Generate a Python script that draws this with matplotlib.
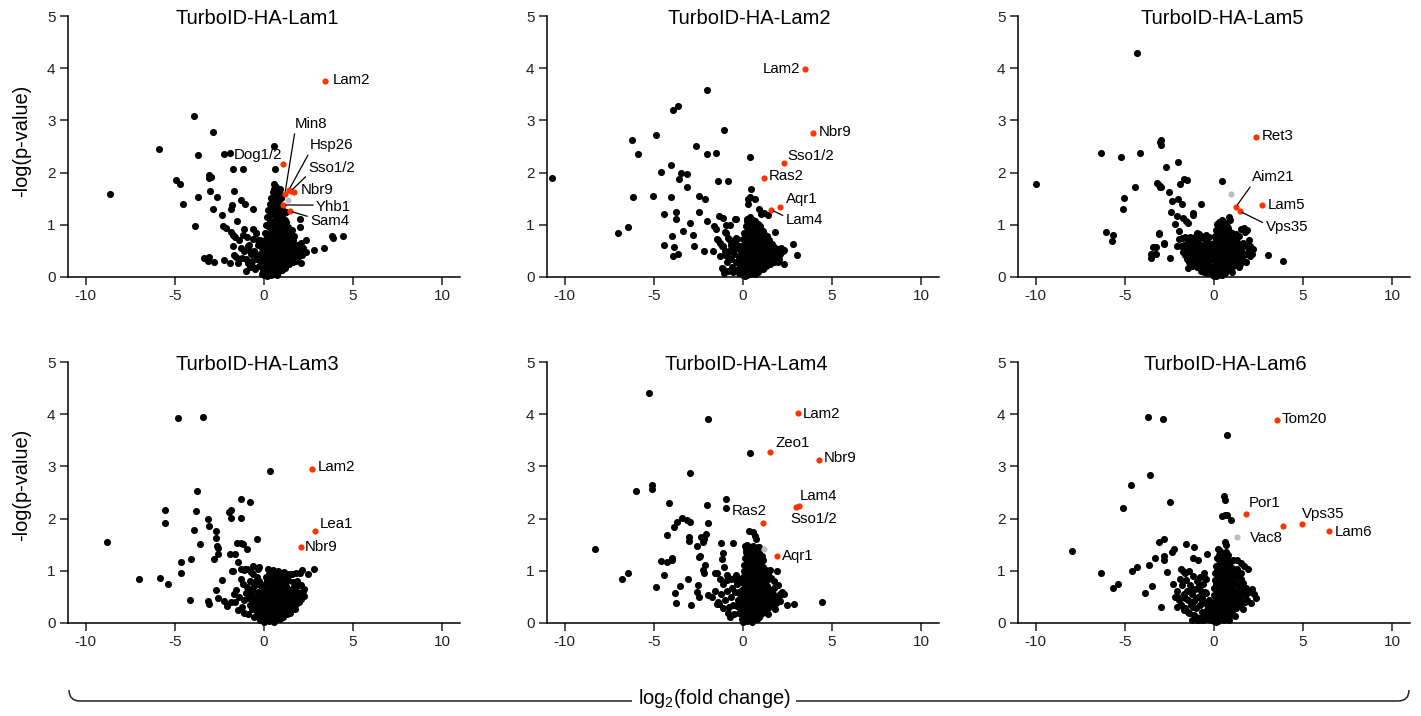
import numpy as np
import matplotlib.pyplot as plt
from matplotlib.path import Path
from matplotlib.patches import PathPatch

plt.rcParams['font.family'] = ['Liberation Sans', 'DejaVu Sans']
plt.rcParams['mathtext.fontset'] = 'custom'
plt.rcParams['mathtext.rm'] = 'Liberation Sans'
plt.rcParams['axes.unicode_minus'] = False

# ---------------- data (log2 fold change, -log p) ----------------
titles = ['TurboID-HA-Lam1', 'TurboID-HA-Lam2', 'TurboID-HA-Lam5',
          'TurboID-HA-Lam3', 'TurboID-HA-Lam4', 'TurboID-HA-Lam6']

lam1_black = [
    (-8.66, 1.59), (-5.87, 2.46), (-3.92, 3.09), (-2.87, 2.77), (-3.68, 2.33), (-2.23, 2.36), (-1.89, 2.37),
    (-4.94, 1.86), (-4.74, 1.79), (-4.53, 1.39), (-3.68, 1.54), (-3.06, 1.96), (-2.96, 1.91), (-3.09, 1.90),
    (-3.04, 1.64), (-2.64, 1.54), (-2.85, 1.31), (-3.85, 0.97), (-2.38, 1.19), (-2.32, 0.97), (-2.13, 0.94),
    (-1.72, 2.07), (-1.17, 2.06), (-1.66, 1.65), (-1.81, 1.37), (-1.87, 1.30), (-1.28, 1.47), (-1.09, 1.40),
    (-0.64, 1.30), (-1.51, 1.08), (-1.83, 0.87), (-1.72, 0.81), (-1.60, 0.77), (-1.11, 0.91), (-0.96, 0.77),
    (-1.19, 0.81), (-0.62, 0.91), (-0.45, 0.84), (-0.34, 0.71), (-3.36, 0.36), (-3.11, 0.38), (-2.83, 0.29),
    (-3.13, 0.31), (-2.26, 0.33), (-1.92, 0.26), (-1.70, 0.43), (-1.57, 0.39), (-1.47, 0.26), (-1.23, 0.36),
    (-1.02, 0.12), (-0.91, 0.27), (-0.62, 0.20), (0.57, 2.51), (0.64, 2.07), (3.36, 0.56), (3.81, 0.79),
    (3.85, 0.75), (4.43, 0.78), (2.79, 0.51), (2.36, 0.70), (2.02, 0.95), (2.02, 1.12), (2.06, 0.27),
    (1.23, 1.24), (-1.75, 0.60), (-1.30, 0.55), (-0.80, 0.50), (-0.55, 0.45), (-1.40, 0.70), (-0.85, 0.62),
    (0.55, 1.78), (0.62, 1.75), (0.70, 1.72), (0.48, 1.62), (0.60, 1.55), (0.75, 1.58), (0.85, 1.60),
    (0.52, 1.45), (0.68, 1.42), (0.80, 1.48), (0.95, 1.52), (0.45, 1.32), (0.58, 1.30), (0.72, 1.35),
    (0.90, 1.38), (1.00, 1.30), (0.40, 1.20), (0.55, 1.18), (0.66, 1.22), (0.82, 1.20), (0.96, 1.15),
    (1.10, 1.22), (0.35, 1.08), (0.50, 1.05), (0.62, 1.10), (0.78, 1.02), (0.92, 1.06), (1.05, 1.00),
    (1.25, 1.05), (0.30, 0.95), (0.45, 0.92), (0.58, 0.96), (0.72, 0.90), (0.86, 0.94), (1.00, 0.88),
    (1.15, 0.92), (1.35, 0.96), (1.55, 0.90), (0.25, 0.82), (0.40, 0.80), (0.52, 0.85), (0.66, 0.78),
    (0.80, 0.82), (0.95, 0.76), (1.10, 0.80), (1.25, 0.75), (1.45, 0.82), (1.70, 0.78), (0.20, 0.70),
    (0.35, 0.68), (0.48, 0.72), (0.62, 0.66), (0.76, 0.70), (0.90, 0.64), (1.05, 0.68), (1.20, 0.62),
    (1.38, 0.66), (1.60, 0.70), (1.85, 0.62), (2.05, 0.66), (0.15, 0.58), (0.28, 0.56), (0.42, 0.60),
    (0.56, 0.54), (0.70, 0.58), (0.85, 0.52), (1.00, 0.56), (1.15, 0.50), (1.30, 0.55), (1.50, 0.52),
    (1.72, 0.56), (1.95, 0.50), (2.20, 0.55), (2.35, 0.48), (0.10, 0.46), (0.22, 0.44), (0.36, 0.48),
    (0.50, 0.42), (0.65, 0.46), (0.80, 0.40), (0.95, 0.44), (1.10, 0.38), (1.28, 0.42), (1.45, 0.36),
    (1.65, 0.40), (1.90, 0.38), (2.15, 0.42), (0.05, 0.34), (0.18, 0.32), (0.32, 0.36), (0.46, 0.30),
    (0.60, 0.34), (0.75, 0.28), (0.90, 0.32), (1.05, 0.26), (1.22, 0.30), (1.40, 0.24), (1.60, 0.28),
    (1.80, 0.30), (0.00, 0.22), (0.12, 0.20), (0.26, 0.24), (0.40, 0.18), (0.55, 0.22), (0.70, 0.16),
    (0.85, 0.20), (1.00, 0.14), (1.20, 0.18), (-0.05, 0.12), (0.08, 0.10), (0.20, 0.14), (0.34, 0.08),
    (0.48, 0.12), (0.62, 0.06), (0.80, 0.10), (0.02, 0.04), (0.15, 0.02), (0.28, 0.05), (0.42, 0.03),
    (-0.12, 0.06), (-0.15, 0.30), (-0.25, 0.45), (-0.10, 0.55), (-0.30, 0.22), (-0.40, 0.35), (-0.50, 0.15),
    (-0.55, 0.50), (-0.20, 0.70), (-0.35, 0.62), (-0.65, 0.30), (-0.75, 0.45), (-0.80, 0.20), (-0.45, 0.85),
    (-0.60, 0.72), (-0.90, 0.60), (-1.00, 0.35), (-1.10, 0.50), (0.05, 0.85), (0.10, 1.00), (0.18, 1.15),
    (0.25, 1.28), (0.32, 1.40), (0.40, 1.52), (0.10, 0.72), (-0.02, 0.65),
]
lam1_core = [
    (0.33, 0.15), (0.52, 0.25), (0.68, 0.38), (0.88, 0.48), (1.08, 0.60), (0.22, 0.38), (0.45, 0.52),
    (0.60, 0.63), (0.78, 0.75), (0.98, 0.97), (1.18, 1.10), (0.38, 0.98), (0.52, 1.35), (0.65, 1.58),
    (0.88, 1.25), (1.02, 0.72), (1.35, 0.50), (1.55, 0.62), (1.75, 0.45), (1.95, 0.60), (0.15, 0.10),
    (0.72, 0.04), (0.92, 0.22), (1.12, 0.30), (1.32, 0.35), (0.28, 0.62), (0.08, 0.28), (-0.08, 0.40),
    (0.42, 0.70), (0.75, 1.12), (0.88, 1.68), (0.70, 1.65), (0.58, 1.68), (0.48, 0.40), (0.70, 0.50),
    (1.25, 0.88), (1.40, 0.72), (0.95, 0.58), (0.28, 1.02), (0.62, 0.85),
]
lam1_gray = [(1.34, 1.47)]
lam1_hits = ['Lam2', 'Dog1/2', 'Min8', 'Hsp26', 'Sso1/2', 'Nbr9', 'Yhb1', 'Sam4']
lam1_hit_x = [3.43, 1.08, 1.17, 1.40, 1.49, 1.68, 1.08, 1.47]
lam1_hit_y = [3.76, 2.16, 1.59, 1.67, 1.64, 1.62, 1.38, 1.26]

lam2_black = [
    (-10.71, 1.89), (-6.99, 0.84), (-6.48, 0.96), (-6.22, 2.63), (-6.17, 1.54), (-5.90, 2.36), (-5.06, 1.56),
    (-4.91, 2.72), (-4.59, 2.02), (-4.44, 0.61), (-4.42, 1.21), (-4.06, 1.54), (-4.02, 2.14), (-3.91, 3.20),
    (-3.67, 3.28), (-3.97, 0.78), (-3.89, 0.57), (-3.95, 0.41), (-3.67, 0.45), (-3.76, 1.25), (-3.76, 1.12),
    (-3.61, 1.88), (-3.46, 2.00), (-3.16, 1.98), (-3.12, 1.72), (-3.35, 0.89), (-2.97, 1.03), (-2.78, 0.80),
    (-2.73, 0.60), (-2.65, 2.51), (-2.46, 1.56), (-2.46, 1.24), (-2.14, 1.49), (-2.20, 0.49), (-2.03, 3.58),
    (-2.01, 2.36), (-1.50, 2.37), (-2.01, 1.07), (-1.05, 2.82), (-1.41, 1.84), (-0.85, 1.83), (-1.35, 1.16),
    (-1.15, 1.13), (-1.60, 0.97), (-1.50, 0.91), (-0.98, 0.99), (-0.73, 0.99), (-0.94, 0.84), (-1.48, 0.73),
    (-1.67, 0.49), (-0.47, 1.12), (-0.38, 1.12), (-0.32, 0.73), (0.38, 2.30), (0.43, 1.68), (0.30, 1.49),
    (0.38, 1.54), (0.28, 1.40), (0.68, 1.50), (0.88, 1.30), (1.03, 1.21), (1.17, 1.22), (1.43, 1.19),
    (1.77, 0.86), (2.82, 0.63), (3.01, 0.43), (2.29, 0.24), (1.73, 0.29), (1.97, 0.29), (2.16, 0.52),
    (2.26, 0.49), (-0.99, 0.86), (-1.43, 0.71), (-1.28, 0.66), (-0.86, 0.75), (-0.71, 0.70), (-0.39, 0.75),
    (-1.16, 0.59), (-1.03, 0.49), (-0.88, 0.40), (-0.65, 0.62), (-0.51, 0.53), (-1.13, 0.15), (-1.05, 0.08),
    (0.25, 1.12), (0.40, 1.14), (0.55, 1.10), (0.70, 1.08), (0.85, 1.02), (0.30, 1.00), (0.48, 0.98),
    (0.62, 1.00), (0.78, 0.95), (0.95, 0.92), (1.10, 0.88), (0.20, 0.88), (0.36, 0.86), (0.52, 0.88),
    (0.68, 0.84), (0.84, 0.82), (1.00, 0.80), (1.20, 0.82), (1.35, 0.78), (0.15, 0.76), (0.30, 0.74),
    (0.45, 0.76), (0.60, 0.72), (0.75, 0.74), (0.92, 0.70), (1.08, 0.72), (1.25, 0.68), (1.45, 0.70),
    (1.60, 0.64), (0.10, 0.64), (0.25, 0.62), (0.40, 0.66), (0.55, 0.60), (0.70, 0.63), (0.86, 0.58),
    (1.02, 0.61), (1.18, 0.56), (1.36, 0.60), (1.55, 0.55), (1.75, 0.58), (1.95, 0.54), (2.15, 0.56),
    (2.30, 0.52), (0.05, 0.52), (0.20, 0.50), (0.35, 0.54), (0.50, 0.48), (0.65, 0.52), (0.80, 0.46),
    (0.96, 0.50), (1.12, 0.44), (1.30, 0.48), (1.48, 0.42), (1.68, 0.46), (1.88, 0.42), (2.05, 0.45),
    (-0.05, 0.42), (0.10, 0.40), (0.25, 0.44), (0.40, 0.38), (0.56, 0.41), (0.72, 0.36), (0.88, 0.39),
    (1.04, 0.34), (1.22, 0.37), (1.40, 0.32), (1.60, 0.35), (1.80, 0.30), (-0.10, 0.32), (0.02, 0.30),
    (0.16, 0.33), (0.30, 0.28), (0.46, 0.31), (0.62, 0.26), (0.78, 0.29), (0.95, 0.24), (1.12, 0.27),
    (1.30, 0.22), (1.50, 0.25), (-0.15, 0.22), (-0.02, 0.20), (0.12, 0.23), (0.26, 0.18), (0.42, 0.20),
    (0.58, 0.15), (0.75, 0.18), (0.92, 0.13), (1.10, 0.16), (-0.08, 0.12), (0.05, 0.10), (0.18, 0.13),
    (0.32, 0.08), (0.48, 0.10), (0.65, 0.06), (0.00, 0.03), (0.12, 0.02), (0.25, 0.04), (-0.20, 0.08),
    (-0.30, 0.15), (-0.40, 0.28), (-0.25, 0.38), (-0.50, 0.45), (-0.35, 0.55), (-0.60, 0.20), (-0.70, 0.35),
    (-0.80, 0.50), (-0.90, 0.28), (-1.00, 0.42), (-1.10, 0.60), (-1.20, 0.18), (-0.65, 0.62), (-0.45, 0.68),
    (-0.15, 0.60), (-0.85, 0.12), (-1.30, 0.40), (-0.55, 0.10), (0.02, 0.72), (0.08, 0.85), (0.15, 0.98),
    (0.22, 1.08),
]
lam2_core = [
    (0.33, 0.95), (0.58, 0.93), (0.88, 0.87), (0.46, 0.81), (0.72, 0.79), (1.05, 0.75), (0.28, 0.69),
    (0.52, 0.67), (0.80, 0.66), (1.15, 0.64), (0.18, 0.57), (0.42, 0.55), (0.72, 0.56), (1.00, 0.54),
    (1.30, 0.55), (0.30, 0.47), (0.58, 0.45), (0.88, 0.44), (1.20, 0.41), (0.20, 0.36), (0.48, 0.35),
    (0.80, 0.33), (1.12, 0.32), (0.38, 0.25), (0.70, 0.23), (1.00, 0.20), (0.20, 0.17), (0.52, 0.14),
    (0.82, 0.10), (0.40, 0.05), (-0.10, 0.48), (-0.20, 0.28), (0.62, 1.05), (0.95, 0.98), (1.40, 0.62),
    (1.60, 0.50), (1.85, 0.52), (2.00, 0.35),
]
lam2_gray = []
lam2_hits = ['Lam2', 'Nbr9', 'Sso1/2', 'Ras2', 'Aqr1', 'Lam4']
lam2_hit_x = [3.50, 3.95, 2.29, 1.20, 2.07, 1.56]
lam2_hit_y = [3.98, 2.75, 2.19, 1.89, 1.35, 1.29]

lam5_black = [
    (-10.0, 1.79), (-6.36, 2.37), (-6.06, 0.87), (-5.65, 0.80), (-5.74, 0.69), (-5.20, 2.30), (-5.03, 1.51),
    (-5.10, 1.31), (-4.43, 1.72), (-4.30, 4.30), (-4.18, 2.38), (-3.56, 0.45), (-3.53, 0.36), (-3.28, 0.57),
    (-3.30, 0.45), (-3.06, 0.84), (-3.00, 2.53), (-3.04, 2.58), (-2.95, 2.62), (-3.21, 1.81), (-3.11, 1.77),
    (-3.02, 1.72), (-2.95, 1.72), (-2.72, 2.11), (-2.80, 0.65), (-2.53, 1.62), (-2.36, 1.45), (-2.44, 1.25),
    (-2.46, 0.36), (-2.21, 1.02), (-2.06, 1.17), (-2.03, 2.21), (-2.01, 1.49), (-1.91, 1.79), (-1.82, 1.40),
    (-1.99, 0.89), (-1.69, 1.88), (-1.50, 1.85), (-1.73, 1.13), (-1.59, 1.07), (-1.48, 1.03), (-1.20, 1.19),
    (-1.16, 1.22), (-0.71, 1.40), (-1.37, 0.65), (-1.71, 0.59), (-2.08, 0.60), (-1.44, 0.18), (0.47, 1.84),
    (0.88, 1.10), (0.51, 1.05), (0.36, 0.97), (1.52, 0.91), (1.76, 0.86), (1.95, 0.70), (3.02, 0.43),
    (3.86, 0.30), (1.44, 0.25), (0.45, 1.10), (0.86, 1.15), (1.67, 0.93), (1.86, 0.90), (2.04, 0.60),
    (2.19, 0.53), (-3.06, 0.83), (-3.40, 0.58), (-3.27, 0.44), (-2.83, 0.64),
    (-1.95, 0.72), (-1.80, 0.74), (-1.65, 0.76), (-1.50, 0.73), (-1.35, 0.77), (-1.20, 0.74), (-1.05, 0.76),
    (-0.90, 0.72), (-0.75, 0.78), (-0.60, 0.74), (-0.45, 0.80), (-0.30, 0.76), (-1.85, 0.60), (-1.70, 0.62),
    (-1.55, 0.58), (-1.40, 0.63), (-1.25, 0.60), (-1.10, 0.64), (-0.95, 0.58), (-0.80, 0.62), (-0.65, 0.57),
    (-0.50, 0.63), (-0.35, 0.58), (-0.20, 0.64), (-1.75, 0.48), (-1.60, 0.50), (-1.45, 0.46), (-1.30, 0.51),
    (-1.15, 0.47), (-1.00, 0.52), (-0.85, 0.46), (-0.70, 0.50), (-0.55, 0.45), (-0.40, 0.49), (-0.25, 0.44),
    (-0.10, 0.50), (-1.50, 0.35), (-1.35, 0.38), (-1.20, 0.33), (-1.05, 0.37), (-0.90, 0.32), (-0.75, 0.36),
    (-0.60, 0.31), (-0.45, 0.35), (-0.30, 0.30), (-0.15, 0.34), (-1.25, 0.22), (-1.10, 0.25), (-0.95, 0.20),
    (-0.80, 0.24), (-0.65, 0.19), (-0.50, 0.23), (-0.35, 0.18), (-0.20, 0.22), (-0.05, 0.20), (-0.75, 0.12),
    (-0.55, 0.10), (-0.40, 0.08), (-0.25, 0.11), (-0.10, 0.06), (-0.98, 0.84), (-0.85, 0.83),
    (0.15, 1.02), (0.30, 1.05), (0.45, 1.00), (0.60, 1.03), (0.75, 0.98), (0.10, 0.90), (0.25, 0.92),
    (0.40, 0.88), (0.55, 0.91), (0.70, 0.86), (0.85, 0.89), (1.00, 0.84), (0.05, 0.78), (0.20, 0.80),
    (0.35, 0.76), (0.50, 0.79), (0.65, 0.74), (0.80, 0.77), (0.95, 0.72), (1.10, 0.75), (1.25, 0.70),
    (1.40, 0.78), (0.00, 0.66), (0.15, 0.68), (0.30, 0.64), (0.45, 0.67), (0.60, 0.62), (0.75, 0.65),
    (0.90, 0.60), (1.05, 0.63), (1.20, 0.58), (1.35, 0.62), (1.50, 0.57), (1.65, 0.66), (1.80, 0.60),
    (1.95, 0.52), (2.10, 0.48), (0.05, 0.55), (0.20, 0.52), (0.35, 0.56), (0.50, 0.50), (0.65, 0.54),
    (0.80, 0.48), (0.95, 0.52), (1.10, 0.46), (1.25, 0.50), (1.40, 0.44), (1.55, 0.48), (1.70, 0.42),
    (1.85, 0.45), (2.00, 0.40), (2.15, 0.44), (0.00, 0.42), (0.12, 0.40), (0.26, 0.44), (0.40, 0.38),
    (0.55, 0.41), (0.70, 0.36), (0.85, 0.39), (1.00, 0.34), (1.15, 0.37), (1.30, 0.32), (1.48, 0.35),
    (1.65, 0.30), (1.80, 0.28), (0.05, 0.30), (0.18, 0.28), (0.32, 0.31), (0.46, 0.26), (0.60, 0.29),
    (0.75, 0.24), (0.90, 0.27), (1.05, 0.22), (1.22, 0.25), (1.40, 0.20), (0.02, 0.18), (0.15, 0.16),
    (0.28, 0.19), (0.42, 0.14), (0.56, 0.17), (0.70, 0.12), (0.86, 0.15), (1.00, 0.10), (0.05, 0.08),
    (0.18, 0.06), (0.32, 0.09), (0.46, 0.04), (0.60, 0.07), (0.00, 0.02), (0.12, 0.01), (0.25, 0.03),
    (-0.05, 0.04),
]
lam5_core = [
    (0.22, 0.97), (0.52, 0.95), (0.80, 0.93), (0.30, 0.84), (0.62, 0.82), (0.92, 0.80), (1.22, 0.82),
    (0.10, 0.72), (0.40, 0.71), (0.70, 0.69), (1.00, 0.67), (1.30, 0.67), (0.22, 0.59), (0.55, 0.57),
    (0.85, 0.55), (1.15, 0.53), (1.45, 0.53), (0.08, 0.48), (0.40, 0.46), (0.72, 0.44), (1.05, 0.42),
    (1.35, 0.40), (0.22, 0.35), (0.55, 0.33), (0.88, 0.31), (1.20, 0.30), (0.38, 0.23), (0.70, 0.20),
    (0.22, 0.12), (0.52, 0.10), (-1.38, 0.68), (-0.88, 0.66), (-0.42, 0.66), (-1.62, 0.42), (-1.08, 0.41),
    (-0.62, 0.40), (-0.22, 0.38), (-0.85, 0.28), (-0.40, 0.26), (-1.40, 0.28),
]
lam5_gray = [(0.98, 1.59)]
lam5_hits = ['Ret3', 'Aim21', 'Vps35', 'Lam5']
lam5_hit_x = [2.33, 1.22, 1.44, 2.70]
lam5_hit_y = [2.68, 1.34, 1.26, 1.37]

lam3_black = [
    (-8.81, 1.55), (-6.99, 0.85), (-5.86, 0.86), (-5.41, 0.75), (-5.56, 2.17), (-5.56, 1.92), (-4.85, 3.93),
    (-4.64, 1.16), (-4.68, 0.96), (-4.13, 0.45), (-4.08, 1.23), (-3.91, 1.78), (-3.83, 2.15), (-3.76, 2.52),
    (-3.61, 1.52), (-3.40, 3.95), (-3.14, 1.99), (-3.08, 1.86), (-3.12, 0.42), (-3.08, 0.37), (-2.80, 1.23),
    (-2.67, 1.76), (-2.67, 1.63), (-2.61, 1.48), (-2.59, 1.33), (-2.58, 1.44), (-2.67, 0.63), (-2.59, 0.47),
    (-2.37, 0.82), (-2.27, 0.42), (-2.10, 0.33), (-1.88, 0.40), (-1.99, 2.13), (-1.88, 2.17), (-1.86, 2.02),
    (-1.92, 1.32), (-1.62, 1.32), (-1.73, 1.00), (-1.48, 1.17), (-1.50, 1.53), (-1.28, 1.53), (-1.18, 1.52),
    (-0.98, 1.42), (-1.28, 2.38), (-1.28, 2.02), (-0.77, 2.31), (-0.39, 1.60), (-1.31, 1.03), (-1.13, 1.02),
    (-0.62, 1.09), (-0.32, 1.04), (0.34, 2.92), (2.78, 1.03), (2.48, 0.94), (2.12, 1.02), (2.03, 0.95),
    (2.22, 0.66), (2.24, 0.52), (1.99, 0.45), (1.43, 0.93),
    (-1.82, 1.00), (-1.31, 0.85), (-1.08, 1.04), (-0.94, 1.04), (-0.75, 0.97), (-0.60, 0.93), (-0.40, 0.88),
    (-0.30, 1.07), (-0.48, 0.78), (-1.20, 0.75), (-0.95, 0.69), (-0.70, 0.63), (-1.55, 0.64), (-1.38, 0.50),
    (-1.10, 0.44), (-0.80, 0.34), (-1.25, 0.31), (-0.90, 0.18), (-0.55, 0.12), (-1.60, 0.40), (-1.45, 0.25),
    (-1.00, 0.58), (-0.85, 0.48), (-0.60, 0.52), (-0.35, 0.60), (-0.25, 0.45), (-0.45, 0.38), (-0.65, 0.26),
    (-0.30, 0.28), (-0.20, 0.16), (-0.40, 0.22), (-0.15, 0.70), (-1.15, 0.20), (-0.78, 0.80), (-0.55, 0.70),
    (-1.70, 0.55), (0.20, 1.04), (0.35, 0.98), (0.50, 1.02), (0.65, 0.96), (0.80, 1.00), (0.95, 0.93),
    (1.10, 0.97), (1.30, 0.92), (1.55, 0.93), (1.80, 0.95), (0.10, 0.88), (0.25, 0.85), (0.40, 0.89),
    (0.55, 0.83), (0.70, 0.87), (0.85, 0.81), (1.00, 0.85), (1.15, 0.79), (1.35, 0.83), (1.60, 0.78),
    (1.85, 0.80), (2.05, 0.72), (0.05, 0.75), (0.18, 0.72), (0.32, 0.76), (0.46, 0.70), (0.60, 0.74),
    (0.75, 0.68), (0.90, 0.72), (1.05, 0.66), (1.22, 0.70), (1.40, 0.64), (1.60, 0.68), (1.80, 0.62),
    (2.00, 0.58), (2.20, 0.62), (0.00, 0.62), (0.12, 0.60), (0.26, 0.64), (0.40, 0.57), (0.55, 0.61),
    (0.70, 0.55), (0.85, 0.59), (1.00, 0.53), (1.15, 0.57), (1.32, 0.51), (1.50, 0.55), (1.70, 0.49),
    (1.90, 0.52), (2.10, 0.46), (0.02, 0.50), (0.15, 0.48), (0.30, 0.52), (0.45, 0.45), (0.60, 0.49),
    (0.75, 0.43), (0.90, 0.47), (1.05, 0.41), (1.22, 0.45), (1.40, 0.39), (1.58, 0.43), (1.78, 0.37),
    (1.98, 0.40), (0.00, 0.38), (0.12, 0.36), (0.26, 0.40), (0.40, 0.34), (0.55, 0.37), (0.70, 0.31),
    (0.85, 0.35), (1.00, 0.29), (1.18, 0.33), (1.36, 0.27), (1.55, 0.31), (1.75, 0.26), (-0.05, 0.27),
    (0.08, 0.25), (0.22, 0.28), (0.36, 0.22), (0.50, 0.26), (0.65, 0.20), (0.80, 0.24), (0.96, 0.18),
    (1.12, 0.22), (1.30, 0.17), (1.48, 0.20), (-0.08, 0.15), (0.05, 0.14), (0.18, 0.17), (0.32, 0.11),
    (0.46, 0.15), (0.60, 0.09), (0.76, 0.12), (0.92, 0.08), (1.08, 0.11), (-0.10, 0.06), (0.02, 0.05),
    (0.15, 0.07), (0.28, 0.03), (0.42, 0.05), (0.56, 0.02), (0.00, 0.01), (-0.20, 0.05),
]
lam3_core = [
    (0.28, 0.93), (0.58, 0.92), (0.90, 0.86), (0.18, 0.80), (0.48, 0.78), (0.80, 0.74), (1.12, 0.74),
    (0.08, 0.68), (0.38, 0.66), (0.68, 0.64), (0.98, 0.62), (1.30, 0.60), (0.22, 0.56), (0.52, 0.54),
    (0.82, 0.52), (1.12, 0.50), (1.42, 0.48), (0.08, 0.44), (0.38, 0.42), (0.68, 0.40), (0.98, 0.38),
    (1.28, 0.36), (0.22, 0.32), (0.52, 0.30), (0.82, 0.28), (1.12, 0.26), (0.40, 0.19), (0.70, 0.16),
    (0.25, 0.10), (-0.12, 0.36), (-0.42, 0.50), (-0.70, 0.42), (-0.52, 0.28), (-0.25, 0.55), (-0.85, 0.60),
    (-0.30, 0.80), (1.65, 0.58), (1.85, 0.70),
]
lam3_gray = []
lam3_hits = ['Lam2', 'Lea1', 'Nbr9']
lam3_hit_x = [2.67, 2.87, 2.08]
lam3_hit_y = [2.95, 1.77, 1.46]

lam4_black = [
    (-8.32, 1.41), (-6.80, 0.85), (-6.47, 0.96), (-6.00, 2.52), (-5.27, 4.41), (-5.08, 2.64), (-5.08, 2.57),
    (-4.91, 0.69), (-4.42, 0.91), (-4.59, 1.19), (-4.29, 1.16), (-4.27, 1.69), (-4.16, 2.30), (-3.99, 1.25),
    (-3.97, 1.21), (-3.84, 0.57), (-3.75, 0.39), (-3.86, 1.83), (-3.69, 1.93), (-3.41, 2.01), (-3.17, 1.97),
    (-2.96, 1.93), (-3.51, 0.70), (-3.11, 0.85), (-3.05, 1.65), (-3.04, 1.57), (-2.99, 2.87), (-2.92, 0.35),
    (-2.57, 1.47), (-2.49, 1.26), (-2.42, 1.28), (-2.51, 0.72), (-2.57, 0.60), (-2.49, 0.50), (-2.36, 1.65),
    (-2.25, 1.56), (-2.19, 1.60), (-2.23, 1.01), (-2.19, 0.96), (-2.12, 1.12), (-2.06, 1.70), (-1.97, 1.92),
    (-1.99, 3.91), (-2.01, 2.27), (-1.95, 0.53), (-1.72, 0.50), (-1.59, 0.95), (-1.48, 0.96), (-1.44, 0.37),
    (-1.35, 0.36), (-1.22, 1.53), (-1.07, 1.07), (-0.97, 2.37), (-0.97, 2.20), (-1.14, 1.34), (-1.18, 1.23),
    (-0.54, 1.53), (-0.92, 0.91), (-0.88, 0.82), (-0.47, 0.88), (-0.41, 0.82), (0.41, 3.26), (0.34, 1.76),
    (0.58, 1.74), (0.69, 1.67), (0.71, 1.60), (0.34, 1.46), (0.90, 1.46), (1.93, 1.00), (1.50, 1.02),
    (4.44, 0.40), (2.87, 0.37), (2.46, 0.35), (2.08, 0.56), (2.21, 0.59),
    (0.10, 1.48), (0.25, 1.50), (0.40, 1.45), (0.55, 1.48), (0.70, 1.42), (0.85, 1.46), (0.15, 1.36),
    (0.30, 1.38), (0.45, 1.33), (0.60, 1.36), (0.75, 1.30), (0.90, 1.34), (1.05, 1.28), (0.10, 1.24),
    (0.25, 1.26), (0.40, 1.21), (0.55, 1.24), (0.70, 1.18), (0.85, 1.22), (1.00, 1.16), (1.15, 1.20),
    (0.08, 1.12), (0.22, 1.14), (0.36, 1.09), (0.50, 1.12), (0.65, 1.06), (0.80, 1.10), (0.95, 1.04),
    (1.10, 1.08), (1.30, 1.02), (0.05, 1.00), (0.18, 1.02), (0.32, 0.97), (0.46, 1.00), (0.60, 0.94),
    (0.75, 0.98), (0.90, 0.92), (1.05, 0.96), (1.20, 0.90), (1.40, 0.94), (0.02, 0.88), (0.15, 0.90),
    (0.28, 0.85), (0.42, 0.88), (0.56, 0.82), (0.70, 0.86), (0.85, 0.80), (1.00, 0.84), (1.15, 0.78),
    (1.32, 0.82), (1.55, 0.86), (1.75, 0.80), (0.00, 0.76), (0.12, 0.78), (0.25, 0.73), (0.40, 0.76),
    (0.55, 0.70), (0.70, 0.74), (0.85, 0.68), (1.00, 0.72), (1.18, 0.66), (1.36, 0.70), (1.55, 0.64),
    (1.75, 0.68), (1.95, 0.72), (-0.05, 0.64), (0.08, 0.66), (0.22, 0.61), (0.36, 0.64), (0.50, 0.58),
    (0.65, 0.62), (0.80, 0.56), (0.96, 0.60), (1.12, 0.54), (1.30, 0.58), (1.50, 0.52), (1.70, 0.56),
    (1.90, 0.50), (2.10, 0.54), (2.30, 0.56), (-0.10, 0.52), (0.04, 0.54), (0.18, 0.49), (0.32, 0.52),
    (0.46, 0.46), (0.60, 0.50), (0.76, 0.44), (0.92, 0.48), (1.08, 0.42), (1.26, 0.46), (1.45, 0.40),
    (1.65, 0.44), (1.85, 0.38), (2.05, 0.42), (-0.15, 0.40), (0.00, 0.42), (0.14, 0.37), (0.28, 0.40),
    (0.42, 0.34), (0.56, 0.38), (0.72, 0.32), (0.88, 0.36), (1.04, 0.30), (1.22, 0.34), (1.40, 0.28),
    (1.62, 0.32), (1.82, 0.27), (-0.18, 0.28), (-0.04, 0.30), (0.10, 0.25), (0.24, 0.28), (0.38, 0.22),
    (0.52, 0.26), (0.68, 0.20), (0.84, 0.24), (1.00, 0.18), (1.18, 0.22), (1.38, 0.17), (-0.12, 0.17),
    (0.02, 0.18), (0.16, 0.13), (0.30, 0.16), (0.44, 0.10), (0.60, 0.14), (0.76, 0.08), (0.92, 0.12),
    (-0.05, 0.07), (0.08, 0.06), (0.22, 0.04), (0.36, 0.07), (0.50, 0.02), (0.00, 0.01), (-0.30, 0.45),
    (-0.45, 0.60), (-0.35, 0.75), (-0.55, 0.35), (-0.70, 0.50), (-0.60, 0.68), (-0.80, 0.30), (-0.90, 0.62),
    (-1.00, 0.45), (-1.10, 0.75), (-1.25, 0.55), (-1.15, 0.28), (-1.40, 0.40), (-0.25, 0.20), (-0.50, 0.18),
    (-0.75, 0.12), (-1.30, 0.85), (-0.40, 0.92), (-0.20, 0.85), (-0.65, 0.85), (-1.55, 0.62), (-0.85, 0.20),
    (-0.20, 0.60),
]
lam4_core = [
    (0.18, 1.42), (0.48, 1.40), (0.32, 1.30), (0.62, 1.28), (0.20, 1.18), (0.48, 1.16), (0.78, 1.14),
    (0.30, 1.04), (0.58, 1.02), (0.88, 0.99), (0.22, 0.93), (0.50, 0.91), (0.80, 0.89), (1.10, 0.86),
    (0.35, 0.81), (0.65, 0.78), (0.95, 0.76), (1.25, 0.76), (0.18, 0.68), (0.48, 0.66), (0.78, 0.64),
    (1.08, 0.62), (1.40, 0.60), (0.30, 0.56), (0.62, 0.54), (0.92, 0.52), (1.22, 0.50), (0.15, 0.45),
    (0.48, 0.43), (0.80, 0.41), (1.12, 0.38), (0.32, 0.32), (0.64, 0.30), (0.96, 0.27), (0.22, 0.21),
    (0.55, 0.18), (0.85, 0.16), (0.38, 0.12), (-0.15, 0.55), (-0.35, 0.32),
]
lam4_gray = [(1.18, 1.42)]
lam4_hits = ['Lam2', 'Zeo1', 'Nbr9', 'Lam4', 'Sso1/2', 'Ras2', 'Aqr1']
lam4_hit_x = [3.11, 1.54, 4.27, 3.17, 2.98, 1.12, 1.91]
lam4_hit_y = [4.02, 3.27, 3.12, 2.25, 2.23, 1.92, 1.28]

lam6_black = [
    (-7.95, 1.37), (-6.32, 0.95), (-5.65, 0.67), (-5.40, 0.75), (-5.10, 2.21), (-4.67, 2.64), (-4.63, 0.99),
    (-4.30, 1.07), (-3.86, 0.57), (-3.71, 3.94), (-3.66, 1.12), (-3.60, 2.84), (-3.47, 0.71), (-3.30, 1.25),
    (-3.11, 1.56), (-2.81, 1.61), (-2.85, 3.90), (-2.81, 1.28), (-2.78, 1.20), (-2.65, 0.98), (-2.98, 0.31),
    (-2.48, 2.31), (-2.33, 1.36), (-2.25, 1.42), (-1.58, 1.51), (-1.13, 1.46), (-1.18, 1.25), (-0.88, 1.20),
    (-0.39, 1.32), (-1.88, 1.04), (-1.76, 0.99), (-0.56, 0.88), (-0.47, 0.85), (0.56, 2.43), (0.64, 2.36),
    (0.75, 3.61), (0.47, 2.05), (0.60, 2.06), (0.75, 2.06), (0.98, 1.97), (0.60, 1.55), (0.66, 1.49),
    (1.28, 1.20), (1.50, 1.14), (1.69, 1.09), (1.91, 1.04), (1.31, 1.04), (1.54, 0.95), (1.69, 0.69),
    (1.78, 0.56), (1.76, 0.40), (2.25, 0.56), (2.33, 0.48), (-2.00, 0.50), (-1.88, 0.34), (-1.69, 0.24),
    (-1.46, 0.21), (-1.03, 0.11), (-0.84, 0.05),
    (-2.20, 0.50), (-2.05, 0.62), (-1.95, 0.45), (-1.85, 0.35), (-1.80, 0.72), (-1.70, 0.55), (-1.65, 0.28),
    (-1.55, 0.82), (-1.50, 0.62), (-1.45, 0.45), (-1.40, 0.20), (-1.35, 0.72), (-1.30, 0.35), (-1.25, 0.55),
    (-1.20, 0.90), (-1.15, 0.15), (-1.10, 0.42), (-1.05, 0.65), (-1.00, 0.28), (-0.95, 0.80), (-0.90, 0.50),
    (-0.85, 0.10), (-0.80, 0.35), (-0.75, 0.62), (-0.70, 0.22), (-0.65, 0.48), (-0.60, 0.75), (-0.55, 0.15),
    (-0.50, 0.38), (-0.45, 0.58), (-0.40, 0.25), (-0.35, 0.08), (-0.30, 0.45), (-0.25, 0.18), (-0.20, 0.32),
    (-0.15, 0.06), (-0.10, 0.22), (-1.60, 0.95), (-1.90, 0.85), (-2.10, 0.30), (-0.95, 0.05), (-1.25, 0.05),
    (-0.60, 0.05), (-1.40, 1.00), (-0.80, 0.88), (-2.30, 0.75), (-0.55, 0.95),
    (0.20, 1.42), (0.35, 1.38), (0.50, 1.32), (0.65, 1.36), (0.80, 1.30), (0.15, 1.25), (0.30, 1.20),
    (0.45, 1.24), (0.60, 1.18), (0.75, 1.22), (0.90, 1.16), (1.05, 1.20), (0.10, 1.10), (0.25, 1.06),
    (0.40, 1.12), (0.55, 1.04), (0.70, 1.08), (0.85, 1.02), (1.00, 1.06), (1.15, 1.00), (0.08, 0.96),
    (0.22, 0.92), (0.36, 0.98), (0.50, 0.90), (0.65, 0.94), (0.80, 0.88), (0.95, 0.92), (1.10, 0.86),
    (1.30, 0.90), (1.50, 0.85), (0.05, 0.82), (0.18, 0.78), (0.32, 0.84), (0.46, 0.76), (0.60, 0.80),
    (0.75, 0.74), (0.90, 0.78), (1.05, 0.72), (1.22, 0.76), (1.40, 0.70), (1.60, 0.76), (1.80, 0.68),
    (0.02, 0.68), (0.15, 0.64), (0.28, 0.70), (0.42, 0.62), (0.56, 0.66), (0.70, 0.60), (0.85, 0.64),
    (1.00, 0.58), (1.16, 0.62), (1.34, 0.56), (1.52, 0.60), (1.72, 0.54), (1.95, 0.60), (2.15, 0.66),
    (0.00, 0.54), (0.12, 0.50), (0.25, 0.56), (0.38, 0.48), (0.52, 0.52), (0.66, 0.46), (0.80, 0.50),
    (0.95, 0.44), (1.10, 0.48), (1.28, 0.42), (1.46, 0.46), (1.65, 0.40), (1.85, 0.44), (2.05, 0.38),
    (0.00, 0.40), (0.10, 0.36), (0.22, 0.42), (0.35, 0.34), (0.48, 0.38), (0.62, 0.32), (0.76, 0.36),
    (0.90, 0.30), (1.05, 0.34), (1.22, 0.28), (1.40, 0.32), (1.60, 0.26), (-0.02, 0.28), (0.08, 0.24),
    (0.20, 0.28), (0.32, 0.20), (0.45, 0.24), (0.58, 0.18), (0.72, 0.22), (0.88, 0.16), (1.02, 0.20),
    (1.20, 0.14), (-0.05, 0.14), (0.05, 0.12), (0.16, 0.15), (0.28, 0.08), (0.40, 0.11), (0.55, 0.06),
    (0.70, 0.09), (0.00, 0.03), (0.10, 0.02), (0.22, 0.04), (0.85, 0.05),
]
lam6_core = [
    (0.28, 1.30), (0.58, 1.26), (0.42, 1.16), (0.72, 1.14), (0.18, 1.02), (0.48, 0.98), (0.78, 0.96),
    (0.30, 0.88), (0.62, 0.86), (0.92, 0.84), (0.12, 0.74), (0.40, 0.72), (0.70, 0.70), (1.00, 0.66),
    (0.28, 0.60), (0.58, 0.58), (0.90, 0.56), (0.18, 0.46), (0.46, 0.44), (0.76, 0.42), (1.02, 0.40),
    (0.30, 0.30), (0.60, 0.28), (0.88, 0.24), (0.15, 0.20), (0.45, 0.16), (0.72, 0.14), (-0.70, 0.40),
    (-1.00, 0.48), (-1.30, 0.62), (-0.50, 0.60), (-0.85, 0.70), (-1.60, 0.48), (-1.20, 0.30), (-0.35, 0.32),
]
lam6_gray = [(1.31, 1.64)]
lam6_hits = ['Tom20', 'Por1', '', 'Vps35', 'Lam6']
lam6_hit_x = [3.53, 1.80, 3.85, 4.95, 6.44]
lam6_hit_y = [3.88, 2.09, 1.85, 1.90, 1.77]

# the only labelled grey point
gray_names = {5: ['Vac8']}

# ---------------- layout ----------------
# label text anchor (x, y, ha), leader-line relpos or None
label_pos = {
    (0, 'Lam2'): (3.85, 3.78, 'left', None),
    (0, 'Dog1/2'): (1.00, 2.33, 'right', None),
    (0, 'Min8'): (1.74, 2.93, 'left', (0, 0)),
    (0, 'Hsp26'): (2.55, 2.52, 'left', (0, 0)),
    (0, 'Sso1/2'): (2.49, 2.08, 'left', (0, 0.1)),
    (0, 'Nbr9'): (2.08, 1.66, 'left', None),
    (0, 'Yhb1'): (2.92, 1.35, 'left', (0, 0.6)),
    (0, 'Sam4'): (2.58, 1.08, 'left', (0, 0.75)),
    (1, 'Lam2'): (3.20, 3.98, 'right', None),
    (1, 'Nbr9'): (4.25, 2.77, 'left', None),
    (1, 'Sso1/2'): (2.50, 2.31, 'left', None),
    (1, 'Ras2'): (1.47, 1.93, 'left', None),
    (1, 'Aqr1'): (2.39, 1.50, 'left', None),
    (1, 'Lam4'): (2.39, 1.10, 'left', (0, 0.7)),
    (2, 'Ret3'): (2.66, 2.71, 'left', None),
    (2, 'Aim21'): (2.14, 1.91, 'left', (0, 0)),
    (2, 'Lam5'): (3.02, 1.37, 'left', None),
    (2, 'Vps35'): (2.89, 0.95, 'left', (0, 0.75)),
    (3, 'Lam2'): (3.00, 2.99, 'left', None),
    (3, 'Lea1'): (3.15, 1.90, 'left', None),
    (3, 'Nbr9'): (2.31, 1.46, 'left', None),
    (4, 'Lam2'): (3.34, 4.01, 'left', None),
    (4, 'Zeo1'): (1.80, 3.45, 'left', None),
    (4, 'Nbr9'): (4.52, 3.16, 'left', None),
    (4, 'Lam4'): (3.21, 2.43, 'left', None),
    (4, 'Sso1/2'): (2.64, 1.99, 'left', None),
    (4, 'Ras2'): (1.33, 2.15, 'right', None),
    (4, 'Aqr1'): (2.19, 1.28, 'left', None),
    (5, 'Tom20'): (3.79, 3.91, 'left', None),
    (5, 'Por1'): (1.93, 2.30, 'left', None),
    (5, 'Vps35'): (4.95, 2.09, 'left', None),
    (5, 'Vac8'): (2.01, 1.62, 'left', None),
    (5, 'Lam6'): (6.75, 1.74, 'left', None),
}

W, H = 1421, 716
fig = plt.figure(figsize=(W / 100, H / 100), dpi=100)

lefts = [68, 547, 1018]
tops = [16, 362]
ax_w, ax_h = 392, 261
title_x = [0.482, 0.517, 0.52, 0.482, 0.508, 0.529]
red = '#FF3300'
grey = '#BEBEBE'

panels = [
    (lam1_black + lam1_core, lam1_gray, lam1_hits, lam1_hit_x, lam1_hit_y),
    (lam2_black + lam2_core, lam2_gray, lam2_hits, lam2_hit_x, lam2_hit_y),
    (lam5_black + lam5_core, lam5_gray, lam5_hits, lam5_hit_x, lam5_hit_y),
    (lam3_black + lam3_core, lam3_gray, lam3_hits, lam3_hit_x, lam3_hit_y),
    (lam4_black + lam4_core, lam4_gray, lam4_hits, lam4_hit_x, lam4_hit_y),
    (lam6_black + lam6_core, lam6_gray, lam6_hits, lam6_hit_x, lam6_hit_y),
]

for i, (black, gray, hits, hx, hy) in enumerate(panels):
    row, col = divmod(i, 3)
    ax = fig.add_axes([lefts[col] / W, 1 - (tops[row] + ax_h) / H, ax_w / W, ax_h / H])
    b = np.array(black)
    ax.scatter(b[:, 0], b[:, 1], s=26, c='black', linewidths=0, clip_on=False, zorder=3)
    if gray:
        g = np.array(gray)
        ax.scatter(g[:, 0], g[:, 1], s=20, c=grey, linewidths=0, clip_on=False, zorder=4)
    ax.scatter(hx, hy, s=20, c=red, linewidths=0, clip_on=False, zorder=5)

    names = list(zip(hits, hx, hy))
    for n, (gx, gy) in zip(gray_names.get(i, []), gray):
        names.append((n, gx, gy))
    for n, px, py in names:
        if not n or (i, n) not in label_pos:
            continue
        tx, ty, ha, rel = label_pos[(i, n)]
        if rel is None:
            ax.text(tx, ty, n, ha=ha, va='center', fontsize=10.8, zorder=6)
        else:
            ax.annotate(n, xy=(px, py), xytext=(tx, ty), ha=ha, va='center', fontsize=10.8,
                        arrowprops=dict(arrowstyle='-', color='black', lw=0.9,
                                        shrinkA=0, shrinkB=2, relpos=rel), zorder=6)

    ax.set_xlim(-11, 11)
    ax.set_ylim(0, 5)
    ax.set_xticks([-10, -5, 0, 5, 10])
    ax.set_yticks([0, 1, 2, 3, 4, 5])
    for side in ['top', 'right']:
        ax.spines[side].set_visible(False)
    for side in ['left', 'bottom']:
        ax.spines[side].set_linewidth(1.1)
    ax.tick_params(length=6, width=1.1, pad=3, labelsize=11, colors='#222222')
    ax.patch.set_alpha(0)
    ax.text(title_x[i], 0.99, titles[i], transform=ax.transAxes, ha='center', va='center', fontsize=14.5)

# y labels
for yc in [141, 485]:
    fig.text(22 / W, 1 - yc / H, '-log(p-value)', rotation=90, ha='center', va='center', fontsize=14.4)

# bracket under all panels with the shared x label
def fx(x):
    return x / W

def fy(y):
    return 1 - y / H

verts = [(fx(69), fy(690)), (fx(69), fy(701)), (fx(80), fy(701)),
         (fx(1398), fy(701)), (fx(1409), fy(701)), (fx(1409), fy(690))]
codes = [Path.MOVETO, Path.CURVE3, Path.CURVE3, Path.LINETO, Path.CURVE3, Path.CURVE3]
fig.add_artist(PathPatch(Path(verts, codes), facecolor='none', edgecolor='#222222', lw=1.1,
                         transform=fig.transFigure))
fig.text(fx(714), fy(699), r'log$_\mathregular{2}$(fold change)', ha='center', va='center', fontsize=14.4,
         bbox=dict(facecolor='white', edgecolor='none', pad=4))

fig.savefig('out.png', dpi=100)
